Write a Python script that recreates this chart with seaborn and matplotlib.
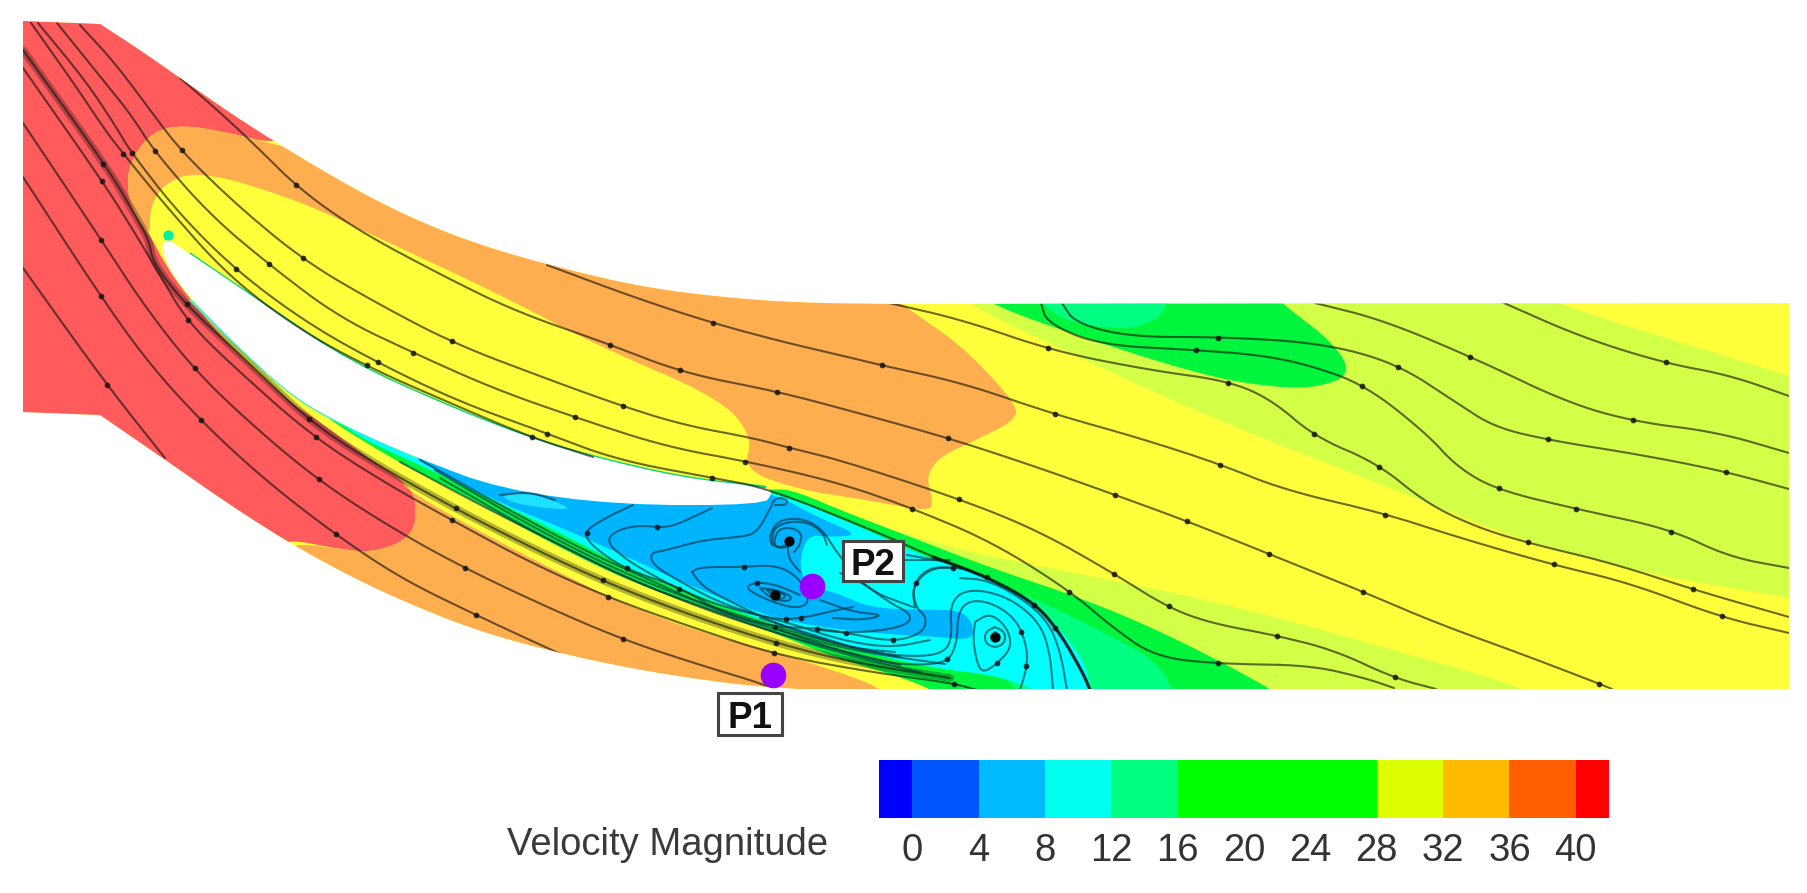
import numpy as np
import matplotlib
matplotlib.use("Agg")
import matplotlib.pyplot as plt
from matplotlib.patches import Polygon, Rectangle
import seaborn as sns

# ---------- colours ----------
RED, ORANGE, YELLOW, LIME = "#FF5A5C", "#FFAE4F", "#FFFF3C", "#D4FF47"
GREEN, SPRING, CYAN, SKY = "#00F53C", "#00FF80", "#00FFFF", "#00B4FF"
PALE = "#20E0FF"
bar_colors = ["#0000FF", "#0055FF", "#00BBFF", "#00FFEE", "#00FF80", "#00FF00",
              "#DDFF00", "#FFBB00", "#FF5F00", "#FF0000"]
bar_codes = [0, 1, 1, 2, 2, 3, 3, 4, 4, 5, 5, 5, 5, 5, 5, 6, 6, 7, 7, 8, 8, 9]
tick_labels = ["0", "4", "8", "12", "16", "20", "24", "28", "32", "36", "40"]
legend_title = "Velocity Magnitude"

# ---------- geometry (image pixels) ----------
wall_top = [(100, 24), (140, 50), (180, 78), (230, 113), (280, 145), (340, 181), (400, 213),
            (470, 242), (548, 265), (645, 288), (740, 299), (807, 303), (893, 304)]
wall_bottom = [(800, 689), (740, 685), (650, 672), (567, 655), (480, 632), (400, 600),
               (340, 571), (288, 542), (230, 505), (167, 461), (100, 415)]
blade = [(165, 238), (180, 247), (268, 307), (350, 362), (450, 407), (530, 438), (593, 457),
         (683, 478), (765, 487), (773, 493), (763, 505), (617, 505), (500, 489), (417, 458),
         (347, 427), (293, 397), (233, 342), (180, 287), (161, 252)]
blade_upper = [(190, 254), (268, 307), (350, 362), (450, 407), (530, 438), (593, 457), (683, 478), (765, 487)]
blade_lower = [(417, 458), (347, 427), (293, 397), (233, 342), (190, 300)]

zone_lime_a = [(950, 280), (963, 303), (1112, 373), (1223, 423), (1395, 490), (1519, 540),
               (1642, 573), (1789, 598), (1840, 605), (1840, 395), (1789, 375), (1550, 303), (1520, 280)]
zone_lime_b = [(880, 525), (950, 548), (1044, 567), (1210, 600), (1334, 633), (1531, 689),
               (1560, 710), (1272, 710), (1173, 637), (1087, 600), (988, 567), (900, 533)]
zone_green_blob = [(975, 285), (985, 303), (1099, 343), (1210, 377), (1272, 387), (1315, 388),
                   (1352, 375), (1334, 343), (1281, 303), (1265, 285)]
zone_spring_blob = [(1030, 285), (1041, 303), (1068, 323), (1130, 330), (1161, 317), (1167, 303), (1170, 285)]
zone_red = [(-300, -300), (300, -300), (320, 120), (279, 145), (230, 133), (184, 125), (153, 131), (130, 160),
            (127, 190), (134, 213), (151, 237), (160, 255), (180, 287), (230, 347), (291, 403), (313, 417),
            (367, 457), (407, 483), (417, 503), (413, 537), (373, 553), (333, 548), (293, 540), (280, 545),
            (250, 545), (100, 700), (-300, 700)]
zone_orange_top = [(300, 150), (280, 146), (230, 133), (184, 125), (153, 131), (130, 160), (127, 190), (134, 213),
                   (151, 237), (149, 213), (161, 185), (199, 170), (298, 200), (383, 240), (497, 293),
                   (600, 347), (720, 398), (753, 437), (743, 470), (800, 490), (867, 500), (930, 512),
                   (933, 500), (926, 477), (939, 457), (976, 440), (1016, 420), (1016, 403), (963, 347),
                   (920, 317), (889, 295), (880, 270), (400, 180)]
zone_orange_low = [(400, 485), (467, 525), (560, 573), (627, 605), (693, 630), (767, 650), (833, 670),
                   (887, 690), (900, 720), (300, 720), (270, 560), (293, 543), (333, 548), (373, 553), (413, 537),
                   (417, 503), (407, 483)]
zone_green = [(320, 412), (345, 430), (400, 463), (467, 497), (560, 548), (627, 580), (700, 607), (767, 630),
              (833, 657), (900, 677), (933, 690), (950, 705), (1290, 705), (1272, 689), (1173, 637),
              (1087, 600), (988, 567), (900, 533), (840, 510), (800, 493), (777, 488), (740, 495), (500, 470), (400, 440)]
zone_spring = [(1017, 690), (1030, 705), (1180, 705), (1173, 689), (1155, 660), (1105, 633), (1037, 600),
               (1000, 585), (950, 620)]
zone_cyan = [(335, 420), (365, 440), (400, 456), (467, 487), (560, 533), (627, 568), (693, 593), (733, 610), (800, 633),
             (867, 653), (933, 668), (1000, 676), (1040, 692), (1045, 705), (1088, 705), (1090, 672), (1067, 637),
             (1033, 603), (987, 577), (933, 560), (867, 530), (777, 492), (700, 480), (500, 470), (400, 440)]
zone_sky = [(410, 452), (425, 465), (500, 503), (560, 527), (627, 557), (693, 587), (760, 613), (783, 620),
            (840, 630), (900, 635), (940, 637), (973, 640), (973, 623), (960, 610), (927, 610), (870, 608),
            (835, 592), (807, 587), (800, 567), (802, 550), (810, 535), (830, 537), (860, 535), (817, 517),
            (773, 493), (700, 480), (500, 470), (430, 450)]
zone_pale = [(500, 495), (530, 492), (577, 510), (543, 508), (513, 503)]

# outer streamlines
line_a = [(547, 265), (633, 297), (709, 322), (783, 342), (840, 355), (880, 365), (963, 383), (1050, 413),
          (1136, 437), (1217, 463), (1284, 490), (1383, 513), (1457, 537), (1550, 564), (1630, 583),
          (1720, 617), (1789, 633)]
line_b = [(180, 78), (214, 107), (253, 143), (298, 188), (357, 230), (445, 277), (517, 312), (606, 343),
          (683, 373), (775, 391), (840, 408), (945, 437), (1025, 463), (1110, 493), (1192, 523), (1274, 556),
          (1359, 590), (1436, 623), (1519, 653), (1600, 684), (1612, 689)]
line_c = [(80, 25), (115, 63), (150, 110), (181, 151), (240, 208), (306, 262), (380, 305), (455, 344),
          (550, 380), (619, 405), (683, 425), (753, 438), (790, 448), (840, 460), (957, 498), (1037, 530),
          (1113, 573), (1167, 607), (1210, 623), (1274, 635), (1334, 650), (1394, 678), (1436, 689)]
line_d = [(57, 23), (95, 70), (130, 113), (154, 151), (210, 215), (272, 267), (340, 318), (418, 355),
          (497, 390), (580, 419), (667, 447), (750, 462), (840, 483), (917, 510), (994, 543), (1070, 591),
          (1112, 627), (1155, 657), (1220, 664), (1309, 665), (1365, 678), (1394, 688)]
line_e = [(38, 23), (85, 80), (115, 125), (130, 151), (180, 215), (239, 273), (310, 325), (382, 365),
          (460, 402), (543, 432), (617, 460), (713, 478), (767, 488), (877, 532), (933, 557), (987, 577),
          (1035, 603), (1060, 633), (1083, 673), (1090, 690)]
line_f = [(31, 23), (75, 85), (105, 130), (122, 152), (165, 205), (228, 276), (300, 330), (370, 368),
          (450, 403), (530, 437), (593, 457)]
line_g = [(889, 303), (963, 320), (1053, 351), (1149, 370), (1229, 381), (1272, 400), (1315, 437), (1377, 463),
          (1426, 503), (1476, 527), (1528, 543), (1612, 563), (1698, 591), (1789, 617)]
line_h = [(1041, 303), (1047, 323), (1099, 345), (1195, 350), (1260, 355), (1309, 365), (1365, 385), (1426, 433),
          (1457, 467), (1497, 490), (1581, 510), (1670, 529), (1729, 557), (1789, 568)]
line_i = [(1062, 303), (1075, 323), (1130, 337), (1223, 337), (1321, 343), (1396, 363), (1457, 403), (1494, 427),
          (1548, 440), (1642, 455), (1723, 471), (1789, 489)]
line_j = [(1315, 303), (1383, 320), (1476, 359), (1568, 403), (1636, 422), (1717, 432), (1789, 453)]
line_k = [(1504, 303), (1581, 337), (1664, 363), (1729, 375), (1789, 396)]
line_l = [(23, 68), (105, 185), (133, 230), (157, 270), (188, 323), (245, 377), (311, 435), (380, 480),
          (457, 523), (535, 565), (612, 599), (700, 630), (777, 655), (870, 672), (952, 683), (977, 690)]
line_m = [(23, 123), (102, 241), (145, 307), (197, 373), (260, 432), (322, 483), (395, 530), (468, 570),
          (560, 613), (627, 641), (700, 665), (760, 683), (775, 690)]
line_n = [(23, 177), (101, 297), (150, 365), (204, 424), (265, 480), (332, 532), (400, 578), (480, 617),
          (567, 657)]
line_o = [(23, 268), (106, 384), (165, 458)]
outer_lines = [line_a, line_b, line_c, line_d, line_e, line_f, line_g, line_h, line_i, line_j, line_k,
               line_l, line_m, line_n, line_o]

# dense bundle hugging the blade and the shear layer
bundle = [(23, 50), (107, 167), (135, 215), (149, 240), (153, 263), (186, 305), (249, 363), (306, 418),
          (360, 455), (452, 507), (530, 547), (607, 583), (690, 615), (772, 642), (850, 662), (950, 678)]

# recirculation streamlines
sep_a = [(633, 505), (607, 517), (583, 532), (593, 547), (627, 570), (680, 587), (720, 612), (773, 627),
         (816, 628), (847, 633), (893, 642), (923, 633), (927, 617), (915, 607), (913, 583), (930, 567), (953, 568)]
sep_b = [(712, 508), (687, 520), (667, 528), (637, 525), (613, 532), (607, 543), (627, 560), (649, 573),
         (680, 590), (720, 606), (787, 622), (840, 640), (890, 648), (930, 640)]
sep_c = [(772, 505), (757, 533), (740, 537), (703, 540), (667, 550), (650, 553), (653, 565), (677, 580),
         (720, 603), (773, 620), (803, 618), (837, 610), (853, 607)]
sep_d = [(800, 572), (788, 558), (788, 542)]
sep_e = [(692, 572), (700, 567), (743, 567), (773, 565), (793, 573), (807, 590), (808, 605), (793, 608),
         (773, 602), (757, 595), (745, 587), (757, 582), (777, 585), (800, 595)]
sep_f = [(692, 572), (703, 587), (733, 603), (773, 622), (800, 632), (850, 648), (895, 652)]
sep_g = [(760, 588), (777, 590), (793, 597), (787, 602), (770, 598), (760, 588)]
sep_h = [(767, 590), (780, 592), (787, 597), (777, 600), (767, 590)]
sep_i = [(787, 545), (777, 548), (768, 540), (777, 520), (803, 518), (823, 530), (837, 553), (867, 590), (913, 607)]
sep_j = [(789, 541), (787, 548), (773, 547), (777, 530), (790, 527), (802, 533), (800, 545), (794, 552)]
sep_k = [(772, 545), (773, 528), (790, 521), (810, 523), (823, 533), (827, 545)]
sep_l = [(975, 622), (990, 613), (1007, 627), (1012, 647), (998, 663), (983, 673), (977, 663), (973, 640), (975, 622)]
sep_m = [(1020, 690), (1027, 667), (1027, 647), (1017, 620), (993, 603), (970, 600), (958, 612), (957, 643),
         (948, 662), (920, 665), (887, 663), (837, 650), (780, 630)]
sep_n = [(1053, 690), (1050, 653), (1040, 623), (1013, 600), (983, 590), (960, 592), (950, 607), (952, 637),
         (945, 652), (920, 657), (870, 653), (820, 637), (760, 618)]
sep_o = [(1067, 690), (1060, 650), (1047, 620), (1020, 597), (987, 580), (960, 578)]
sep_p = [(915, 608), (912, 587), (930, 568), (960, 567), (987, 577)]
sep_q = [(840, 573), (863, 583), (890, 603), (910, 613), (910, 623), (887, 630), (847, 633), (820, 630)]
sep_r = [(820, 600), (853, 612), (885, 615), (863, 620), (833, 618)]
sep_s = [(907, 555), (947, 562)]
sep_t = [(903, 560), (950, 560)]
sep_u = [(995, 627), (1005, 632), (1005, 643), (995, 648), (985, 643), (985, 632), (995, 627)]
sep_v = [(995, 632), (1000, 637), (995, 642), (990, 637), (995, 632)]
sep_w = [(772, 503), (778, 497), (788, 500), (786, 505), (775, 505)]
sep_x = [(420, 460), (500, 505), (583, 550), (650, 580), (720, 612), (790, 634), (860, 652), (945, 664)]
sep_y = [(500, 495), (530, 492), (555, 500)]
sep_z = [(435, 470), (520, 520), (600, 562), (670, 592), (740, 616), (820, 640), (900, 657)]
sep_aa = [(440, 478), (530, 530), (610, 570), (680, 600), (750, 625), (830, 648), (900, 665)]
sep_ab = [(400, 462), (480, 505), (560, 545), (630, 580), (700, 606), (770, 631), (850, 656), (920, 672)]
sep_lines = [sep_a, sep_b, sep_c, sep_d, sep_e, sep_f, sep_g, sep_h, sep_i, sep_j, sep_k, sep_l, sep_m,
             sep_n, sep_o, sep_p, sep_q, sep_r, sep_s, sep_t, sep_u, sep_v, sep_w, sep_x, sep_y, sep_z,
             sep_aa, sep_ab]

dots_x = [181, 154, 130, 122, 107, 105, 299, 239, 272, 306, 455, 418, 382, 370, 102, 101, 106, 186, 188, 196, 204,
          307, 311, 322, 332, 452, 457, 468, 480, 709, 606, 775, 790, 619, 580, 750, 683, 713, 530, 543, 880, 945,
          957, 917, 1053, 1050, 1110, 1113, 1070, 1229, 1195, 1223, 1217, 1192, 1167, 1220, 1274, 1274, 1383, 1377,
          1365, 1315, 1396, 1476, 1497, 1581, 1548, 1636, 1664, 1723, 1670, 1528, 1550, 1698, 1720, 1359, 1600, 1394,
          607, 612, 627, 772, 777, 952, 583, 627, 657, 680, 743, 773, 757, 787, 803, 816, 847, 893, 913, 948, 953,
          987, 1033, 1027, 1027, 998, 1062]
dots_y = [151, 151, 151, 152, 167, 185, 188, 273, 267, 262, 344, 355, 365, 368, 241, 297, 384, 305, 323, 373, 424,
          418, 435, 483, 532, 507, 523, 570, 617, 322, 343, 391, 448, 405, 419, 462, 373, 478, 437, 432, 365, 437,
          498, 510, 351, 413, 493, 573, 591, 381, 350, 337, 463, 523, 607, 664, 556, 635, 513, 463, 385, 437, 363,
          359, 490, 510, 440, 422, 363, 471, 529, 543, 564, 591, 617, 590, 684, 678, 583, 599, 641, 642, 655, 683,
          532, 570, 528, 587, 567, 627, 582, 618, 618, 628, 633, 642, 583, 662, 568, 577, 603, 628, 667, 663, 621]
centre_x = [775, 789, 995]
centre_y = [595, 541, 637]
probe_x = [773, 812]
probe_y = [675, 586]
probe_names = ["P1", "P2"]


def smooth(pts, closed=False, n=3):
    p = np.asarray(pts, float)
    for _ in range(n):
        q = np.roll(p, -1, axis=0) if closed else p[1:]
        a = p if closed else p[:-1]
        new = np.empty((2 * len(a), 2))
        new[0::2] = 0.75 * a + 0.25 * q
        new[1::2] = 0.25 * a + 0.75 * q
        p = new if closed else np.vstack([pts[0], new, pts[-1]])
    return p


sns.set_theme(style="white")
W, H = 1808, 893
fig = plt.figure(figsize=(W / 100, H / 100), dpi=100, facecolor="white")
ax = fig.add_axes([0, 0, 1, 1])
FONT = "Liberation Sans"

outline = np.vstack([[(23, 21)], smooth(wall_top, n=3), [(1789, 303), (1789, 689)],
                     smooth(wall_bottom, n=3), [(100, 415), (23, 412)]])
domain = Polygon(outline, closed=True, facecolor=YELLOW, edgecolor="none", zorder=1)
ax.add_patch(domain)


def zone(pts, color, z):
    patch = Polygon(smooth(pts, closed=True), closed=True, facecolor=color, edgecolor="none", zorder=z)
    ax.add_patch(patch)
    patch.set_clip_path(domain)


zone(zone_lime_a, LIME, 2)
zone(zone_lime_b, LIME, 2)
zone(zone_green_blob, GREEN, 3)
zone(zone_spring_blob, SPRING, 4)
zone(zone_red, RED, 2)
zone(zone_orange_top, ORANGE, 3)
zone(zone_orange_low, ORANGE, 3)
zone(zone_green, GREEN, 4)
zone(zone_spring, SPRING, 5)
zone(zone_cyan, CYAN, 6)
zone(zone_sky, SKY, 7)
zone(zone_pale, PALE, 8)

upper_xy = smooth(blade_upper)
lower_xy = smooth(blade_lower)
ax.plot(upper_xy[:, 0], upper_xy[:, 1], color="#00D878", lw=2.0, zorder=8.5)
ax.plot(lower_xy[:, 0], lower_xy[:, 1], color="#30F0D0", lw=1.8, zorder=8.5)
blade_xy = smooth(blade, closed=True, n=2)
ax.add_patch(Polygon(blade_xy, closed=True, facecolor="white", edgecolor="none", zorder=9))
ax.scatter([168], [235], s=55, color="#00F0A0", zorder=9.5, linewidths=0)


smoothed_lines = []


def stream(pts, lw=1.5, alpha=0.62, color="#101010"):
    s = smooth(pts, n=3)
    smoothed_lines.append(s)
    sns.lineplot(x=s[:, 0], y=s[:, 1], sort=False, estimator=None, errorbar=None, ax=ax,
                 color=color, linewidth=lw, alpha=alpha, zorder=10, legend=False)
    ax.lines[-1].set_clip_path(domain)


stream(bundle, lw=5.5, alpha=0.30)
stream(bundle, lw=1.5, alpha=0.6)
for line in outer_lines:
    stream(line)
for line in sep_lines:
    stream(line, lw=1.5, alpha=0.62, color="#063040")
stream(line_e[14:], lw=2.4, alpha=0.75)

# place each arrow head on the streamline it was read from
all_pts = np.vstack(smoothed_lines)
snap_x, snap_y = [], []
for dx, dy in zip(dots_x, dots_y):
    k = np.argmin((all_pts[:, 0] - dx) ** 2 + (all_pts[:, 1] - dy) ** 2)
    snap_x.append(all_pts[k, 0])
    snap_y.append(all_pts[k, 1])

sns.scatterplot(x=snap_x, y=snap_y, s=17, color="#151515", alpha=0.85, linewidth=0, ax=ax, zorder=11, legend=False)
sns.scatterplot(x=centre_x, y=centre_y, s=55, color="#050505", linewidth=0, ax=ax, zorder=11, legend=False)
sns.scatterplot(x=probe_x, y=probe_y, s=340, color="#9A00FF", linewidth=0, ax=ax, zorder=12, legend=False)

# probe labels
label_boxes = [(718, 693, 64, 42), (843, 541, 60, 40)]
for (bx, by, bw, bh), name in zip(label_boxes, probe_names):
    ax.add_patch(Rectangle((bx, by), bw, bh, facecolor="white", edgecolor="#444444", linewidth=2.2, zorder=13))
    ax.text(bx + bw / 2, by + bh / 2 + 0.5, name, ha="center", va="center_baseline", fontsize=26.5,
            fontweight="bold", family=FONT, color="#111111", zorder=14)

ax.text(668, 845, legend_title, ha="center", va="center", fontsize=27.5, family=FONT, color="#3a3a3a")

ax.set_xlim(0, W)
ax.set_ylim(H, 0)
ax.set_xlabel("")
ax.set_ylabel("")
ax.set_axis_off()

# colour bar
cax = fig.add_axes([879 / W, 1 - 818 / H, (1609 - 879) / W, 58 / H])
sns.heatmap(np.array([bar_codes]), cmap=bar_colors, cbar=False, ax=cax, xticklabels=False, yticklabels=False,
            vmin=-0.5, vmax=len(bar_colors) - 0.5)
cax.set_xticks(np.arange(1, 22, 2))
cax.set_xticklabels(tick_labels, fontsize=27.5, family=FONT, color="#333333", rotation=0)
cax.tick_params(axis="x", length=0, pad=11)
cax.set_yticks([])

fig.savefig("out.png", dpi=100, facecolor="white")
